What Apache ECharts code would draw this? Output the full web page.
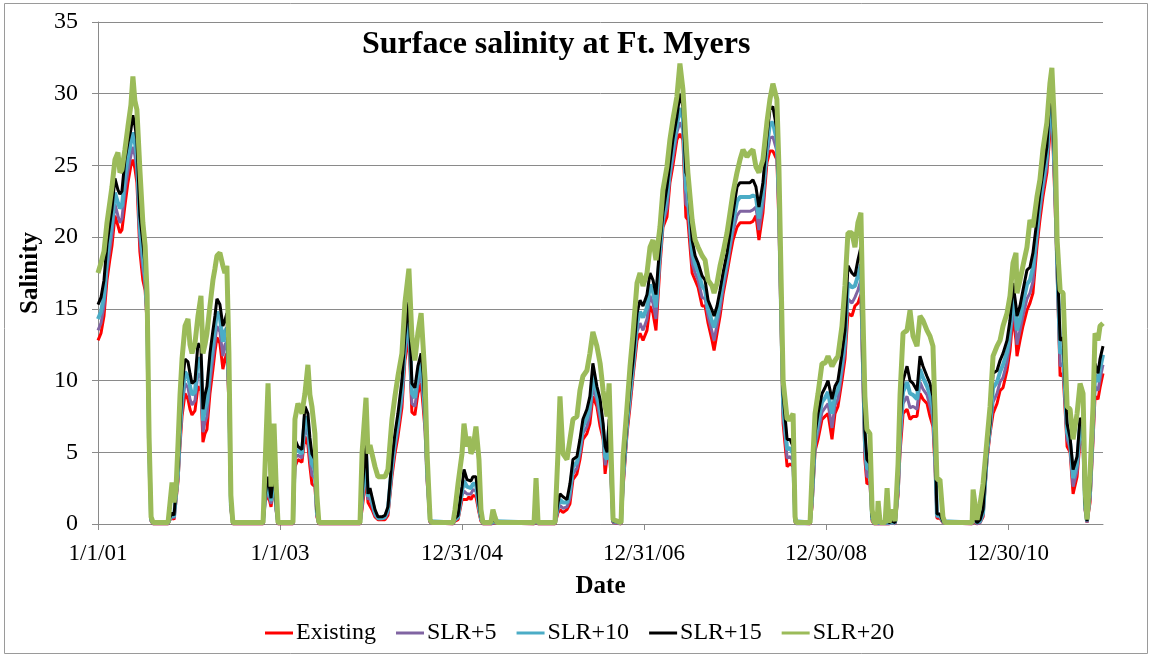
<!DOCTYPE html>
<html>
<head>
<meta charset="utf-8">
<title>Surface salinity at Ft. Myers</title>
<script src="https://cdn.jsdelivr.net/npm/echarts@6/dist/echarts.min.js"></script>
<style>
  html, body { margin: 0; padding: 0; background: #fff; }
  #chart { width: 1151px; height: 657px; }
</style>
</head>
<body>
<div id="chart"></div>
<script>
// days since 1/1/01
const days = [
  0, 12, 24, 36, 48, 56, 68, 80, 88, 96,
  108, 120, 132, 140, 148, 156, 168, 180, 189, 197,
  205, 213, 221, 281, 289, 297, 305, 313, 321, 329,
  337, 349, 361, 369, 377, 389, 401, 413, 421, 429,
  437, 449, 461, 469, 477, 489, 501, 509, 517, 525,
  533, 541, 662, 670, 682, 694, 706, 714, 722, 782,
  790, 802, 818, 830, 842, 850, 858, 870, 878, 886,
  1051, 1059, 1075, 1083, 1091, 1099, 1111, 1123, 1139, 1151,
  1163, 1179, 1191, 1203, 1219, 1231, 1247, 1259, 1271, 1283,
  1296, 1304, 1312, 1320, 1332, 1340, 1424, 1432, 1444, 1460,
  1468, 1480, 1488, 1496, 1504, 1516, 1528, 1536, 1544, 1576,
  1584, 1592, 1600, 1749, 1757, 1765, 1833, 1845, 1853, 1865,
  1881, 1893, 1905, 1921, 1933, 1945, 1961, 1973, 1985, 2001,
  2014, 2026, 2034, 2042, 2050, 2058, 2066, 2098, 2106, 2122,
  2134, 2146, 2162, 2174, 2186, 2202, 2214, 2226, 2238, 2254,
  2266, 2282, 2294, 2306, 2322, 2334, 2346, 2358, 2366, 2383,
  2395, 2407, 2423, 2435, 2447, 2463, 2471, 2483, 2495, 2507,
  2523, 2535, 2547, 2563, 2575, 2587, 2603, 2615, 2627, 2639,
  2651, 2667, 2683, 2695, 2707, 2723, 2731, 2740, 2748, 2764,
  2776, 2788, 2796, 2800, 2856, 2864, 2876, 2888, 2904, 2916,
  2928, 2944, 2956, 2968, 2984, 2996, 3008, 3024, 3036, 3048,
  3060, 3068, 3076, 3084, 3096, 3105, 3113, 3125, 3129, 3137,
  3157, 3165, 3173, 3181, 3185, 3197, 3209, 3217, 3229, 3245,
  3257, 3269, 3285, 3297, 3309, 3325, 3337, 3349, 3357, 3365,
  3377, 3389, 3397, 3506, 3510, 3526, 3538, 3550, 3566, 3578,
  3590, 3606, 3618, 3630, 3646, 3658, 3670, 3682, 3686, 3698,
  3710, 3726, 3738, 3750, 3766, 3778, 3790, 3806, 3818, 3826,
  3839, 3847, 3859, 3871, 3887, 3899, 3911, 3927, 3939, 3951,
  3959, 3967, 3979, 3991, 3999, 4011, 4019, 4031
]

const existing = [
  12.8, 13.3, 14.5, 17.0, 18.5, 19.4, 21.5, 20.8, 20.3, 20.5,
  22.2, 23.8, 25.0, 25.4, 24.8, 23.8, 19.0, 17.0, 16.3, 14.0,
  5.0, 0.2, 0, 0, 0.3, 0.5, 0.3, 0.4, 3.0, 5.5,
  7.5, 9.1, 8.7, 8.0, 7.6, 7.9, 9.6, 9.3, 5.7, 6.3,
  6.6, 9.1, 10.8, 12.0, 13.0, 12.6, 10.8, 11.5, 11.9, 8.5,
  1.0, 0, 0, 1.5, 2.1, 1.2, 2.8, 1.0, 0, 0,
  4.0, 4.5, 4.3, 6.1, 5.5, 4.0, 2.8, 2.6, 0.5, 0,
  0, 1.0, 3.2, 1.5, 1.6, 1.0, 0.5, 0.3, 0.3, 0.3,
  0.6, 3.3, 4.9, 6.1, 8.1, 11.4, 13.0, 7.8, 7.6, 9.1,
  9.8, 8.2, 6.5, 3.0, 0.1, 0, 0, 0.2, 0.3, 1.7,
  1.7, 1.7, 1.9, 1.7, 2.0, 1.9, 0.8, 0.2, 0, 0,
  0.1, 0.1, 0, 0, 0.2, 0, 0, 0.8, 1.0, 0.8,
  1.0, 1.4, 3.1, 3.5, 4.5, 5.9, 6.3, 7.0, 8.9, 8.2,
  6.8, 5.9, 3.5, 3.5, 5.9, 3.0, 0.1, 0, 2.5, 6.3,
  8.2, 10.3, 12.8, 13.3, 12.8, 13.5, 15.2, 14.7, 13.5, 18.0,
  20.7, 21.4, 23.8, 25.0, 26.8, 27.2, 26.8, 21.4, 21.2, 17.5,
  17.0, 16.5, 15.2, 15.2, 14.0, 12.8, 12.1, 13.3, 14.5, 16.0,
  17.5, 18.7, 19.8, 20.7, 21.0, 21.0, 21.0, 21.0, 21.1, 21.5,
  19.8, 21.7, 25.2, 26.0, 26.0, 25.4, 21.0, 13.5, 7.0, 4.0,
  4.2, 4.0, 0.1, 0, 0, 1.2, 5.1, 5.9, 7.3, 7.5,
  7.7, 5.9, 7.7, 8.2, 10.0, 11.5, 14.7, 14.5, 15.2, 15.4,
  16.0, 10.0, 4.5, 2.8, 2.9, 0.2, 0, 0, 0.1, 0,
  0, 0.1, 0, 0, 0.1, 0, 2.0, 5.0, 7.7, 8.0,
  7.3, 7.5, 7.5, 9.1, 8.7, 8.4, 7.5, 6.8, 4.0, 0.4,
  0.4, 0.1, 0, 0, 0.2, 0, 0.1, 0.5, 4.5, 6.3,
  7.7, 8.4, 9.3, 9.5, 10.7, 12.1, 14.5, 12.8, 11.7, 12.8,
  13.8, 14.9, 15.4, 16.1, 19.3, 21.2, 22.8, 24.5, 27.2, 28.7,
  22.1, 17.5, 10.3, 10.5, 5.4, 5.0, 2.1, 3.3, 5.8, 5.5,
  1.0, 0.1, 1.5, 5.8, 8.9, 8.7, 9.5, 10.5
]

const slr5 = [
  13.5, 14.0, 15.2, 17.7, 19.2, 20.2, 22.3, 21.5, 21.0, 21.3,
  23.2, 24.6, 25.7, 26.3, 25.7, 24.7, 19.8, 17.8, 16.8, 14.3,
  5.1, 0.2, 0, 0, 0.3, 0.6, 0.4, 0.5, 3.3, 6.0,
  8.1, 9.8, 9.5, 8.7, 8.3, 8.6, 10.5, 10.2, 6.4, 7.1,
  7.5, 9.9, 11.6, 12.7, 13.8, 13.4, 11.7, 12.5, 12.7, 8.9,
  1.2, 0, 0, 1.6, 2.4, 1.4, 3.2, 1.1, 0, 0,
  4.6, 4.8, 4.6, 6.7, 6.2, 4.6, 3.4, 3.2, 0.6, 0,
  0, 1.3, 4.0, 1.7, 1.9, 1.3, 0.6, 0.4, 0.4, 0.4,
  0.8, 3.7, 5.3, 6.6, 8.7, 11.9, 13.8, 8.4, 8.2, 9.7,
  10.4, 8.9, 7.0, 3.3, 0.1, 0, 0, 0.3, 0.4, 2.0,
  2.3, 2.1, 2.2, 2.1, 2.4, 2.3, 1.0, 0.3, 0, 0,
  0.1, 0.1, 0, 0, 0.3, 0, 0, 1.0, 1.3, 1.1,
  1.2, 1.8, 3.5, 3.9, 4.9, 6.3, 6.8, 7.6, 9.6, 8.6,
  7.4, 6.2, 4.1, 4.0, 6.3, 3.3, 0.1, 0, 2.8, 6.6,
  8.6, 10.6, 13.4, 14.0, 13.5, 14.3, 15.9, 15.4, 14.3, 18.5,
  21.0, 22.0, 24.2, 25.5, 27.3, 28.0, 27.5, 22.3, 22.1, 18.2,
  17.5, 17.0, 15.8, 15.7, 14.5, 13.4, 12.8, 13.9, 15.0, 16.4,
  17.9, 19.2, 20.4, 21.5, 21.8, 21.8, 21.8, 21.8, 21.9, 22.1,
  20.5, 22.3, 25.7, 26.9, 27.0, 26.0, 21.8, 14.1, 7.6, 4.6,
  4.7, 4.4, 0.2, 0, 0, 1.5, 5.5, 6.4, 7.8, 8.1,
  8.4, 6.7, 8.3, 8.7, 10.6, 12.1, 15.7, 15.4, 15.8, 16.3,
  17.0, 10.6, 5.1, 3.3, 3.3, 0.3, 0, 0, 0.1, 0,
  0, 0.1, 0, 0, 0.1, 0, 2.3, 5.6, 8.4, 8.9,
  8.1, 8.2, 8.0, 9.9, 9.4, 9.0, 8.2, 7.4, 4.6, 0.5,
  0.5, 0.1, 0, 0, 0.3, 0, 0.1, 0.6, 4.7, 6.5,
  8.5, 9.1, 9.9, 10.2, 11.3, 12.7, 15.2, 13.5, 12.5, 13.5,
  14.5, 15.7, 16.1, 16.9, 19.9, 21.8, 23.3, 25.0, 28.0, 29.2,
  22.8, 17.9, 11.0, 11.2, 5.9, 5.3, 2.6, 3.7, 6.3, 6.0,
  1.1, 0.1, 1.8, 6.3, 9.6, 9.3, 10.1, 11.1
]

const slr10 = [
  14.3, 14.8, 15.9, 18.6, 20.1, 21.0, 23.1, 22.4, 22.0, 22.2,
  24.2, 25.6, 26.6, 27.3, 26.6, 25.7, 20.6, 18.7, 17.3, 14.6,
  5.3, 0.3, 0.1, 0.1, 0.4, 0.7, 0.5, 0.5, 3.6, 6.5,
  8.8, 10.6, 10.3, 9.6, 9.0, 9.2, 11.6, 11.3, 7.2, 8.0,
  8.5, 10.9, 12.6, 13.6, 14.8, 14.4, 12.7, 13.4, 13.7, 9.5,
  1.3, 0.1, 0.1, 1.8, 2.9, 1.6, 3.6, 1.3, 0.1, 0.1,
  5.2, 5.1, 4.9, 7.5, 6.9, 5.3, 4.2, 3.8, 0.8, 0.1,
  0.1, 1.7, 4.9, 1.9, 2.2, 1.6, 0.8, 0.4, 0.4, 0.5,
  1.0, 4.1, 5.8, 7.1, 9.3, 12.5, 14.6, 9.1, 8.8, 10.3,
  11.2, 9.7, 7.5, 3.6, 0.2, 0.1, 0.1, 0.3, 0.5, 2.3,
  3.0, 2.6, 2.7, 2.5, 2.8, 2.8, 1.2, 0.4, 0.1, 0.1,
  0.2, 0.2, 0.1, 0.1, 0.4, 0.1, 0.1, 1.3, 1.7, 1.5,
  1.5, 2.3, 4.0, 4.3, 5.4, 6.8, 7.4, 8.2, 10.4, 9.1,
  8.0, 6.6, 4.7, 4.5, 6.8, 3.7, 0.2, 0.1, 3.2, 7.0,
  9.1, 11.0, 14.0, 14.8, 14.4, 15.1, 16.7, 16.2, 15.1, 19.0,
  21.3, 22.8, 24.7, 26.2, 27.8, 29.0, 28.3, 23.4, 23.0, 19.0,
  18.1, 17.6, 16.6, 16.3, 15.0, 14.1, 13.7, 14.5, 15.7, 17.0,
  18.4, 19.7, 21.0, 22.5, 22.8, 22.8, 22.8, 22.8, 22.9, 22.8,
  21.3, 23.1, 26.3, 27.9, 28.0, 26.7, 22.6, 14.8, 8.3, 5.2,
  5.3, 4.9, 0.2, 0.1, 0.1, 1.8, 5.9, 7.1, 8.5, 8.8,
  9.2, 7.7, 8.9, 9.4, 11.2, 12.8, 16.8, 16.5, 16.6, 17.3,
  18.1, 11.3, 5.8, 3.9, 3.8, 0.4, 0.1, 0.1, 0.2, 0.1,
  0.1, 0.2, 0.1, 0.1, 0.1, 0.1, 2.7, 6.3, 9.2, 9.9,
  9.1, 9.0, 8.7, 10.8, 10.2, 9.6, 9.0, 8.1, 5.3, 0.6,
  0.6, 0.2, 0.1, 0.1, 0.4, 0.1, 0.2, 0.8, 5.0, 6.8,
  9.5, 9.9, 10.6, 11.1, 12.0, 13.5, 16.0, 14.4, 13.5, 14.3,
  15.4, 16.7, 17.0, 17.9, 20.5, 22.4, 23.9, 25.7, 28.9, 29.7,
  23.7, 18.3, 11.9, 12.1, 6.4, 5.7, 3.2, 4.2, 6.9, 6.5,
  1.3, 0.2, 2.2, 6.9, 10.4, 9.9, 10.8, 11.8
]

const slr15 = [
  15.3, 15.8, 17.0, 19.5, 21.0, 22.0, 24.1, 23.3, 23.0, 23.2,
  25.4, 26.6, 27.5, 28.5, 27.8, 26.8, 21.5, 19.6, 18.0, 15.0,
  5.5, 0.4, 0.1, 0.1, 0.5, 0.8, 0.6, 0.6, 4.0, 7.0,
  9.5, 11.5, 11.3, 10.5, 9.8, 10.0, 12.6, 12.3, 8.0, 9.0,
  9.6, 11.9, 13.5, 14.5, 15.7, 15.3, 13.8, 14.2, 14.7, 10.0,
  1.5, 0.1, 0.1, 2.0, 3.3, 1.8, 4.0, 1.5, 0.1, 0.1,
  5.9, 5.4, 5.2, 8.2, 7.7, 6.0, 4.9, 4.5, 1.0, 0.1,
  0.1, 2.0, 5.9, 2.1, 2.5, 1.9, 1.0, 0.5, 0.5, 0.6,
  1.2, 4.5, 6.3, 7.7, 10.0, 13.1, 15.5, 9.8, 9.5, 11.0,
  11.9, 10.5, 8.0, 4.0, 0.2, 0.1, 0.1, 0.4, 0.6, 2.6,
  3.8, 3.1, 3.1, 3.0, 3.3, 3.3, 1.4, 0.5, 0.1, 0.1,
  0.3, 0.2, 0.1, 0.1, 0.5, 0.1, 0.1, 1.5, 2.1, 1.9,
  1.7, 2.8, 4.5, 4.7, 5.9, 7.3, 8.0, 8.9, 11.2, 9.6,
  8.7, 7.0, 5.4, 5.0, 7.3, 4.0, 0.2, 0.1, 3.5, 7.3,
  9.6, 11.4, 14.7, 15.6, 15.2, 16.0, 17.5, 17.0, 16.0, 19.6,
  21.7, 23.5, 25.2, 26.8, 28.4, 30.0, 29.1, 24.5, 24.1, 19.8,
  18.7, 18.2, 17.3, 17.0, 15.6, 14.9, 14.5, 15.2, 16.3, 17.5,
  18.9, 20.3, 21.7, 23.5, 23.8, 23.8, 23.8, 23.8, 24.0, 23.5,
  22.1, 23.8, 27.0, 28.9, 29.1, 27.5, 23.5, 15.5, 9.0, 5.9,
  5.9, 5.4, 0.3, 0.1, 0.1, 2.1, 6.3, 7.7, 9.1, 9.5,
  10.0, 8.7, 9.6, 10.0, 11.9, 13.5, 18.0, 17.5, 17.3, 18.4,
  19.3, 12.0, 6.5, 4.5, 4.2, 0.5, 0.1, 0.1, 0.3, 0.1,
  0.1, 0.3, 0.1, 0.1, 0.2, 0.1, 3.0, 7.0, 10.0, 11.0,
  10.0, 9.8, 9.3, 11.7, 11.0, 10.3, 9.8, 8.9, 6.0, 0.7,
  0.7, 0.2, 0.1, 0.1, 0.5, 0.1, 0.3, 1.0, 5.2, 7.0,
  10.5, 10.7, 11.4, 11.9, 12.8, 14.2, 16.8, 15.2, 14.5, 15.2,
  16.3, 17.7, 17.9, 18.9, 21.2, 23.1, 24.5, 26.3, 29.8, 30.3,
  24.5, 18.7, 12.8, 13.0, 7.0, 6.0, 3.8, 4.7, 7.4, 7.0,
  1.5, 0.2, 2.5, 7.4, 11.2, 10.5, 11.5, 12.4
]

const slr20 = [
  17.5, 18.2, 19.0, 21.0, 22.5, 23.5, 25.4, 25.9, 24.5, 24.7,
  26.1, 27.7, 29.2, 31.2, 29.5, 28.9, 24.7, 21.0, 19.4, 16.0,
  6.0, 0.5, 0.1, 0.1, 1.5, 2.9, 1.5, 2.5, 5.6, 9.0,
  11.5, 13.8, 14.3, 12.5, 11.9, 12.6, 14.5, 15.9, 11.9, 12.5,
  13.3, 15.2, 17.0, 17.8, 18.7, 18.9, 18.0, 17.5, 18.0, 12.0,
  2.0, 0.1, 0.1, 4.0, 9.8, 2.6, 7.0, 3.0, 0.1, 0.1,
  7.3, 8.4, 7.7, 9.1, 11.1, 9.0, 8.2, 6.3, 2.0, 0.1,
  0.1, 4.9, 8.8, 4.9, 5.5, 4.9, 4.0, 3.3, 3.3, 3.3,
  3.8, 7.3, 8.9, 10.3, 11.9, 15.4, 17.8, 13.1, 11.4, 13.3,
  14.7, 12.4, 10.0, 4.9, 0.3, 0.1, 0.1, 1.0, 2.8, 4.9,
  7.0, 5.4, 6.1, 4.9, 5.2, 6.8, 4.5, 1.0, 0.1, 0.1,
  1.0, 0.5, 0.1, 0.1, 3.2, 0.1, 0.1, 5.0, 8.9, 4.9,
  4.5, 5.9, 7.3, 7.5, 9.3, 10.3, 10.7, 11.9, 13.4, 12.4,
  11.2, 9.3, 8.2, 7.5, 9.8, 5.0, 0.3, 0.1, 4.7, 8.2,
  11.0, 13.3, 16.8, 17.5, 16.6, 17.5, 19.3, 19.8, 18.4, 20.7,
  23.3, 24.9, 26.8, 28.2, 29.8, 32.1, 30.3, 26.8, 24.5, 21.2,
  19.8, 19.3, 18.7, 18.4, 17.0, 16.6, 16.1, 16.8, 18.0, 18.9,
  20.3, 21.7, 23.1, 24.5, 25.4, 26.1, 25.6, 25.9, 26.1, 24.9,
  24.5, 25.4, 28.0, 29.6, 30.7, 29.6, 25.0, 17.0, 10.0, 7.3,
  7.3, 7.7, 0.5, 0.1, 0.1, 3.5, 7.7, 9.1, 11.2, 11.2,
  11.7, 11.0, 11.4, 11.7, 13.8, 16.6, 20.3, 20.3, 19.3, 21.0,
  21.7, 14.7, 8.9, 6.6, 6.3, 1.0, 0.1, 0.1, 1.6, 0.1,
  0.1, 2.5, 0.1, 0.2, 1.0, 0.2, 4.2, 9.0, 13.3, 13.5,
  14.9, 13.1, 12.4, 14.5, 14.2, 13.5, 13.1, 12.4, 8.0, 3.1,
  3.1, 0.5, 0.1, 0.1, 2.4, 0.3, 1.4, 2.8, 5.9, 8.2,
  11.7, 12.4, 12.8, 13.8, 14.7, 15.9, 18.2, 18.9, 16.1, 17.0,
  18.0, 19.3, 21.2, 20.7, 22.8, 24.0, 26.1, 28.0, 30.7, 31.8,
  26.8, 19.8, 16.3, 16.1, 8.2, 8.0, 5.9, 7.7, 9.8, 9.1,
  2.4, 0.3, 3.5, 8.2, 13.3, 12.8, 13.8, 14.0
]

const seriesNames = ['Existing', 'SLR+5', 'SLR+10', 'SLR+15', 'SLR+20']
const seriesColors = ['#ff0000', '#8064a2', '#4bacc6', '#000000', '#9bbb59']
const seriesWidths = [3, 3, 4, 3, 5]
const seriesValues = [existing, slr5, slr10, slr15, slr20]

const tickDays = [0, 730, 1460, 2190, 2920, 3650]
const tickLabels = ['1/1/01', '1/1/03', '12/31/04', '12/31/06', '12/30/08', '12/30/10']

const serif = "'Liberation Serif', 'Times New Roman', serif"
const grey = '#8a8a8a'

const chart = echarts.init(document.getElementById('chart'), null, { renderer: 'canvas' })

chart.setOption({
  animation: false,
  backgroundColor: '#fff',
  title: {
    text: 'Surface salinity at Ft. Myers',
    left: 357,
    top: 24,
    textStyle: { fontFamily: serif, fontSize: 32, fontWeight: 'bold', color: '#000' }
  },
  legend: {
    data: seriesNames,
    left: 265,
    top: 621,
    padding: 0,
    icon: 'rect',
    itemWidth: 28,
    itemHeight: 3,
    itemGap: 20,
    textStyle: { fontFamily: serif, fontSize: 24, color: '#000', padding: [0, 0, 0, -2] }
  },
  grid: { left: 98, right: 48, top: 22, bottom: 133, containLabel: false },
  xAxis: {
    type: 'value',
    min: 0,
    max: 4031,
    interval: 730,
    name: 'Date',
    nameLocation: 'middle',
    nameGap: 50,
    nameTextStyle: { fontFamily: serif, fontSize: 25, fontWeight: 'bold', color: '#000' },
    axisLine: { show: true, lineStyle: { color: grey, width: 1 } },
    axisTick: { show: true, length: 6, lineStyle: { color: grey }, customValues: tickDays },
    splitLine: { show: false },
    axisLabel: {
      fontFamily: serif,
      fontSize: 23,
      color: '#000',
      margin: 18,
      customValues: tickDays,
      formatter: v => {
        const i = tickDays.indexOf(v)
        return i >= 0 ? tickLabels[i] : ''
      }
    }
  },
  yAxis: {
    type: 'value',
    min: 0,
    max: 35,
    interval: 5,
    name: 'Salinity',
    nameLocation: 'middle',
    nameGap: 50,
    nameRotate: 90,
    nameTextStyle: { fontFamily: serif, fontSize: 25, fontWeight: 'bold', color: '#000' },
    axisLine: { show: true, lineStyle: { color: grey, width: 1 } },
    axisTick: { show: true, length: 6, lineStyle: { color: grey } },
    splitLine: { show: true, lineStyle: { color: grey, width: 1 } },
    axisLabel: { fontFamily: serif, fontSize: 24, color: '#000', margin: 20 }
  },
  graphic: [{
    type: 'rect',
    shape: { x: 4.5, y: 3.5, width: 1143, height: 650 },
    style: { fill: 'none', stroke: '#9a9a9a', lineWidth: 1 },
    silent: true,
    z: -1
  }],
  series: seriesNames.map((name, i) => ({
    name,
    type: 'line',
    showSymbol: false,
    symbol: 'none',
    color: seriesColors[i],
    lineStyle: { color: seriesColors[i], width: seriesWidths[i] },
    data: days.map((d, j) => [d, seriesValues[i][j]])
  }))
})
</script>
</body>
</html>
